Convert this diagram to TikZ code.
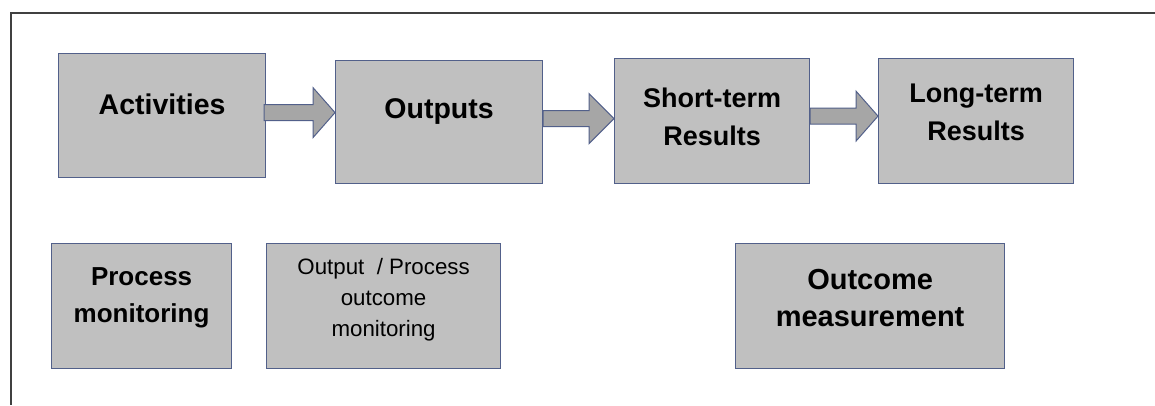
\documentclass[tikz,border=0pt]{standalone}
\usepackage{fontspec}
\setmainfont{Liberation Sans}
\usetikzlibrary{calc}
\definecolor{boxfill}{HTML}{C0C0C0}
\definecolor{boxline}{HTML}{52608A}
\definecolor{arrowfill}{HTML}{A6A6A6}
\definecolor{frameline}{HTML}{404040}
\tikzset{
  box/.style={draw=boxline, fill=boxfill, line width=1.2pt, inner sep=0pt, anchor=north west},
  lbl/.style={align=center, inner sep=0pt, text=black},
  boldlbl/.style={lbl, font=\bfseries\fontsize{27}{38}\selectfont},
  plainlbl/.style={lbl, font=\fontsize{22.3}{31}\selectfont},
  blockarrow/.style={draw=boxline, fill=arrowfill, line width=1pt, line join=miter},
}
% block arrow from #1 (start point) to the west side of node #2, head length #3
\newcommand\blockarrowpath[3]{%
  \path[blockarrow] let \p1=(#1), \p2=(#2.west) in
    (\x1,\y1+8pt) -- (\x2-#3,\y1+8pt) -- (\x2-#3,\y1+25pt) -- (\x2,\y1)
    -- (\x2-#3,\y1-25pt) -- (\x2-#3,\y1-8pt) -- (\x1,\y1-8pt) -- cycle;}
\begin{document}
\begin{tikzpicture}[x=1pt,y=1pt]
  \useasboundingbox (0,0) rectangle (1155,-405);
  \fill[white] (0,0) rectangle (1155,-405);
  % outer frame (top and left edges)
  \draw[frameline, line width=2pt] (1155,-13) -- (11,-13) -- (11,-405);

  % result chain
  \node[box, minimum width=207pt, minimum height=124pt] (activities) at (58,-53) {};
  \node[box, minimum width=207pt, minimum height=123pt] (outputs) at (335,-60) {};
  \node[box, minimum width=195pt, minimum height=125pt] (short) at (614,-58) {};
  \node[box, minimum width=195pt, minimum height=125pt] (long) at (878,-58) {};

  \node[boldlbl, font=\bfseries\fontsize{28.5}{38}\selectfont] (activitiesT) at ([yshift=11pt]activities.center) {Activities};
  \node[boldlbl, font=\bfseries\fontsize{28.5}{38}\selectfont] (outputsT) at ([yshift=11pt]outputs.center) {Outputs};
  \node[boldlbl] (shortT) at ([yshift=4pt]short.center) {Short-term\\Results};
  \node[boldlbl] (longT) at ([yshift=9pt]long.center) {Long-term\\Results};

  % connecting arrows
  \coordinate (a1) at ([xshift=-2pt,yshift=3pt]activities.east);
  \coordinate (a2) at ([xshift=0pt,yshift=3.5pt]outputs.east);
  \coordinate (a3) at ([xshift=0pt,yshift=5pt]short.east);
  \blockarrowpath{a1}{outputs}{22pt}
  \blockarrowpath{a2}{short}{25pt}
  \blockarrowpath{a3}{long}{22pt}

  % monitoring row
  \node[box, minimum width=180pt, minimum height=125pt] (procmon) at (51,-243) {};
  \node[box, minimum width=234pt, minimum height=125pt] (outmon) at (266,-243) {};
  \node[box, minimum width=269pt, minimum height=125pt] (outmeas) at (735,-243) {};

  \node[boldlbl, font=\bfseries\fontsize{26}{37}\selectfont] (procmonT) at ([yshift=8pt]procmon.center) {Process\\monitoring};
  \node[plainlbl] (outmonT) at ([yshift=6pt]outmon.center) {Output\ \ / Process\\outcome\\monitoring};
  \node[boldlbl, font=\bfseries\fontsize{29}{37}\selectfont] (outmeasT) at ([yshift=8pt]outmeas.center) {Outcome\\measurement};
\end{tikzpicture}
\end{document}
